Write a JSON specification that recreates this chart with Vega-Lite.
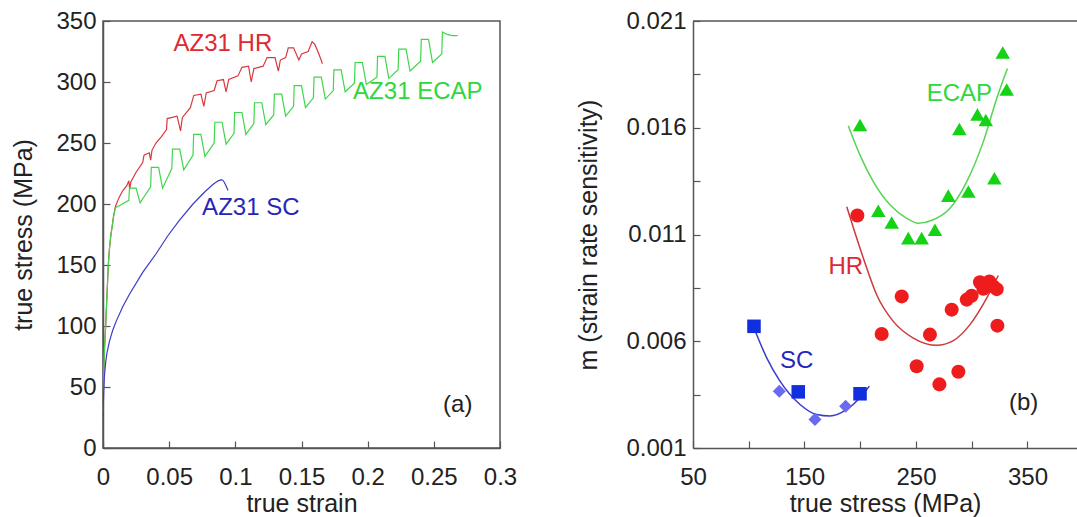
{
  "$schema": "https://vega.github.io/schema/vega-lite/v6.json",
  "background": "white",
  "padding": {"left": 11, "top": 8, "right": 0, "bottom": 0},
  "bounds": "flush",
  "spacing": 193,
  "config": {
    "font": "Liberation Sans",
    "view": {"stroke": "#555", "strokeWidth": 1.5},
    "axis": {
      "labelFont": "Liberation Sans", "titleFont": "Liberation Sans",
      "labelFontSize": 24, "titleFontSize": 25, "titleFontWeight": "normal",
      "labelColor": "#222", "titleColor": "#222",
      "domainColor": "#555", "domainWidth": 1.5, "tickColor": "#555", "tickWidth": 1.2,
      "grid": false, "tickSize": -7, "labelPadding": 14, "labelOverlap": false, "labelFlush": false
    }
  },
  "datasets": {
    "curves": [
      {"series": "HR", "i": 1, "strain": 0, "stress": 30},
      {"series": "HR", "i": 2, "strain": 0.0005, "stress": 60},
      {"series": "HR", "i": 3, "strain": 0.001, "stress": 78},
      {"series": "HR", "i": 4, "strain": 0.002, "stress": 100},
      {"series": "HR", "i": 5, "strain": 0.003, "stress": 125},
      {"series": "HR", "i": 6, "strain": 0.004, "stress": 150},
      {"series": "HR", "i": 7, "strain": 0.005, "stress": 165},
      {"series": "HR", "i": 8, "strain": 0.006, "stress": 175},
      {"series": "HR", "i": 9, "strain": 0.007, "stress": 182},
      {"series": "HR", "i": 10, "strain": 0.008, "stress": 190},
      {"series": "HR", "i": 11, "strain": 0.0094, "stress": 198},
      {"series": "HR", "i": 12, "strain": 0.012, "stress": 205},
      {"series": "HR", "i": 13, "strain": 0.015, "stress": 211},
      {"series": "HR", "i": 14, "strain": 0.018, "stress": 215},
      {"series": "HR", "i": 15, "strain": 0.0195, "stress": 219},
      {"series": "HR", "i": 16, "strain": 0.0202, "stress": 212},
      {"series": "HR", "i": 17, "strain": 0.021, "stress": 218},
      {"series": "HR", "i": 18, "strain": 0.025, "stress": 226},
      {"series": "HR", "i": 19, "strain": 0.030, "stress": 234},
      {"series": "HR", "i": 20, "strain": 0.031, "stress": 240},
      {"series": "HR", "i": 21, "strain": 0.035, "stress": 242},
      {"series": "HR", "i": 22, "strain": 0.036, "stress": 236},
      {"series": "HR", "i": 23, "strain": 0.037, "stress": 244},
      {"series": "HR", "i": 24, "strain": 0.040, "stress": 250},
      {"series": "HR", "i": 25, "strain": 0.044, "stress": 255},
      {"series": "HR", "i": 26, "strain": 0.048, "stress": 261},
      {"series": "HR", "i": 27, "strain": 0.0485, "stress": 270},
      {"series": "HR", "i": 28, "strain": 0.056, "stress": 272},
      {"series": "HR", "i": 29, "strain": 0.0586, "stress": 260},
      {"series": "HR", "i": 30, "strain": 0.060, "stress": 271},
      {"series": "HR", "i": 31, "strain": 0.066, "stress": 279},
      {"series": "HR", "i": 32, "strain": 0.0686, "stress": 289},
      {"series": "HR", "i": 33, "strain": 0.074, "stress": 290},
      {"series": "HR", "i": 34, "strain": 0.0762, "stress": 280},
      {"series": "HR", "i": 35, "strain": 0.078, "stress": 291},
      {"series": "HR", "i": 36, "strain": 0.084, "stress": 293},
      {"series": "HR", "i": 37, "strain": 0.0862, "stress": 301},
      {"series": "HR", "i": 38, "strain": 0.091, "stress": 302},
      {"series": "HR", "i": 39, "strain": 0.093, "stress": 292},
      {"series": "HR", "i": 40, "strain": 0.095, "stress": 302},
      {"series": "HR", "i": 41, "strain": 0.102, "stress": 305},
      {"series": "HR", "i": 42, "strain": 0.105, "stress": 312},
      {"series": "HR", "i": 43, "strain": 0.110, "stress": 313},
      {"series": "HR", "i": 44, "strain": 0.112, "stress": 300},
      {"series": "HR", "i": 45, "strain": 0.114, "stress": 311},
      {"series": "HR", "i": 46, "strain": 0.121, "stress": 313},
      {"series": "HR", "i": 47, "strain": 0.124, "stress": 320},
      {"series": "HR", "i": 48, "strain": 0.130, "stress": 320},
      {"series": "HR", "i": 49, "strain": 0.1325, "stress": 309},
      {"series": "HR", "i": 50, "strain": 0.134, "stress": 318},
      {"series": "HR", "i": 51, "strain": 0.138, "stress": 320},
      {"series": "HR", "i": 52, "strain": 0.140, "stress": 328},
      {"series": "HR", "i": 53, "strain": 0.144, "stress": 328},
      {"series": "HR", "i": 54, "strain": 0.148, "stress": 318},
      {"series": "HR", "i": 55, "strain": 0.150, "stress": 323},
      {"series": "HR", "i": 56, "strain": 0.155, "stress": 325},
      {"series": "HR", "i": 57, "strain": 0.158, "stress": 333},
      {"series": "HR", "i": 58, "strain": 0.160, "stress": 331},
      {"series": "HR", "i": 59, "strain": 0.162, "stress": 326},
      {"series": "HR", "i": 60, "strain": 0.1645, "stress": 319},
      {"series": "HR", "i": 61, "strain": 0.1658, "stress": 315},

      {"series": "ECAP", "i": 1, "strain": 0, "stress": 30},
      {"series": "ECAP", "i": 2, "strain": 0.0005, "stress": 60},
      {"series": "ECAP", "i": 3, "strain": 0.001, "stress": 78},
      {"series": "ECAP", "i": 4, "strain": 0.002, "stress": 100},
      {"series": "ECAP", "i": 5, "strain": 0.003, "stress": 125},
      {"series": "ECAP", "i": 6, "strain": 0.004, "stress": 150},
      {"series": "ECAP", "i": 7, "strain": 0.005, "stress": 165},
      {"series": "ECAP", "i": 8, "strain": 0.006, "stress": 175},
      {"series": "ECAP", "i": 9, "strain": 0.007, "stress": 182},
      {"series": "ECAP", "i": 10, "strain": 0.008, "stress": 190},
      {"series": "ECAP", "i": 11, "strain": 0.0094, "stress": 197},
      {"series": "ECAP", "i": 12, "strain": 0.013, "stress": 199},
      {"series": "ECAP", "i": 13, "strain": 0.0195, "stress": 203},
      {"series": "ECAP", "i": 14, "strain": 0.020, "stress": 213},
      {"series": "ECAP", "i": 15, "strain": 0.025, "stress": 213},
      {"series": "ECAP", "i": 16, "strain": 0.028, "stress": 201},
      {"series": "ECAP", "i": 17, "strain": 0.036, "stress": 214},
      {"series": "ECAP", "i": 18, "strain": 0.0365, "stress": 230},
      {"series": "ECAP", "i": 19, "strain": 0.042, "stress": 230},
      {"series": "ECAP", "i": 20, "strain": 0.045, "stress": 213},
      {"series": "ECAP", "i": 21, "strain": 0.052, "stress": 229},
      {"series": "ECAP", "i": 22, "strain": 0.0525, "stress": 245},
      {"series": "ECAP", "i": 23, "strain": 0.058, "stress": 245},
      {"series": "ECAP", "i": 24, "strain": 0.061, "stress": 228},
      {"series": "ECAP", "i": 25, "strain": 0.068, "stress": 240},
      {"series": "ECAP", "i": 26, "strain": 0.0685, "stress": 257},
      {"series": "ECAP", "i": 27, "strain": 0.074, "stress": 257},
      {"series": "ECAP", "i": 28, "strain": 0.077, "stress": 239},
      {"series": "ECAP", "i": 29, "strain": 0.084, "stress": 250},
      {"series": "ECAP", "i": 30, "strain": 0.0845, "stress": 267},
      {"series": "ECAP", "i": 31, "strain": 0.090, "stress": 267},
      {"series": "ECAP", "i": 32, "strain": 0.093, "stress": 249},
      {"series": "ECAP", "i": 33, "strain": 0.099, "stress": 258},
      {"series": "ECAP", "i": 34, "strain": 0.0995, "stress": 275},
      {"series": "ECAP", "i": 35, "strain": 0.105, "stress": 275},
      {"series": "ECAP", "i": 36, "strain": 0.108, "stress": 257},
      {"series": "ECAP", "i": 37, "strain": 0.114, "stress": 266},
      {"series": "ECAP", "i": 38, "strain": 0.1145, "stress": 283},
      {"series": "ECAP", "i": 39, "strain": 0.120, "stress": 283},
      {"series": "ECAP", "i": 40, "strain": 0.123, "stress": 265},
      {"series": "ECAP", "i": 41, "strain": 0.129, "stress": 273},
      {"series": "ECAP", "i": 42, "strain": 0.1295, "stress": 290},
      {"series": "ECAP", "i": 43, "strain": 0.135, "stress": 290},
      {"series": "ECAP", "i": 44, "strain": 0.138, "stress": 272},
      {"series": "ECAP", "i": 45, "strain": 0.144, "stress": 280},
      {"series": "ECAP", "i": 46, "strain": 0.1445, "stress": 297},
      {"series": "ECAP", "i": 47, "strain": 0.150, "stress": 297},
      {"series": "ECAP", "i": 48, "strain": 0.153, "stress": 279},
      {"series": "ECAP", "i": 49, "strain": 0.159, "stress": 287},
      {"series": "ECAP", "i": 50, "strain": 0.1595, "stress": 304},
      {"series": "ECAP", "i": 51, "strain": 0.165, "stress": 304},
      {"series": "ECAP", "i": 52, "strain": 0.168, "stress": 286},
      {"series": "ECAP", "i": 53, "strain": 0.174, "stress": 293},
      {"series": "ECAP", "i": 54, "strain": 0.1745, "stress": 310},
      {"series": "ECAP", "i": 55, "strain": 0.180, "stress": 310},
      {"series": "ECAP", "i": 56, "strain": 0.183, "stress": 292},
      {"series": "ECAP", "i": 57, "strain": 0.190, "stress": 299},
      {"series": "ECAP", "i": 58, "strain": 0.1905, "stress": 316},
      {"series": "ECAP", "i": 59, "strain": 0.196, "stress": 316},
      {"series": "ECAP", "i": 60, "strain": 0.199, "stress": 298},
      {"series": "ECAP", "i": 61, "strain": 0.207, "stress": 304},
      {"series": "ECAP", "i": 62, "strain": 0.2075, "stress": 321},
      {"series": "ECAP", "i": 63, "strain": 0.213, "stress": 321},
      {"series": "ECAP", "i": 64, "strain": 0.216, "stress": 303},
      {"series": "ECAP", "i": 65, "strain": 0.223, "stress": 310},
      {"series": "ECAP", "i": 66, "strain": 0.2235, "stress": 327},
      {"series": "ECAP", "i": 67, "strain": 0.229, "stress": 327},
      {"series": "ECAP", "i": 68, "strain": 0.232, "stress": 309},
      {"series": "ECAP", "i": 69, "strain": 0.240, "stress": 317},
      {"series": "ECAP", "i": 70, "strain": 0.2405, "stress": 335},
      {"series": "ECAP", "i": 71, "strain": 0.246, "stress": 335},
      {"series": "ECAP", "i": 72, "strain": 0.249, "stress": 316},
      {"series": "ECAP", "i": 73, "strain": 0.256, "stress": 323},
      {"series": "ECAP", "i": 74, "strain": 0.2565, "stress": 341},
      {"series": "ECAP", "i": 75, "strain": 0.260, "stress": 339},
      {"series": "ECAP", "i": 76, "strain": 0.264, "stress": 338},
      {"series": "ECAP", "i": 77, "strain": 0.268, "stress": 338},

      {"series": "SC", "i": 1, "strain": 0, "stress": 25},
      {"series": "SC", "i": 2, "strain": 0.0005, "stress": 45},
      {"series": "SC", "i": 3, "strain": 0.001, "stress": 58},
      {"series": "SC", "i": 4, "strain": 0.002, "stress": 70},
      {"series": "SC", "i": 5, "strain": 0.003, "stress": 78},
      {"series": "SC", "i": 6, "strain": 0.005, "stress": 88},
      {"series": "SC", "i": 7, "strain": 0.0075, "stress": 97},
      {"series": "SC", "i": 8, "strain": 0.010, "stress": 104},
      {"series": "SC", "i": 9, "strain": 0.015, "stress": 116},
      {"series": "SC", "i": 10, "strain": 0.020, "stress": 126},
      {"series": "SC", "i": 11, "strain": 0.030, "stress": 144},
      {"series": "SC", "i": 12, "strain": 0.040, "stress": 159},
      {"series": "SC", "i": 13, "strain": 0.049, "stress": 174},
      {"series": "SC", "i": 14, "strain": 0.058, "stress": 187},
      {"series": "SC", "i": 15, "strain": 0.068, "stress": 200},
      {"series": "SC", "i": 16, "strain": 0.077, "stress": 210},
      {"series": "SC", "i": 17, "strain": 0.083, "stress": 216},
      {"series": "SC", "i": 18, "strain": 0.087, "stress": 219},
      {"series": "SC", "i": 19, "strain": 0.0895, "stress": 220},
      {"series": "SC", "i": 20, "strain": 0.091, "stress": 219},
      {"series": "SC", "i": 21, "strain": 0.0925, "stress": 216},
      {"series": "SC", "i": 22, "strain": 0.0945, "stress": 211}
    ],
    "leftLabels": [
      {"label": "AZ31 HR", "strain": 0.0533, "stress": 331},
      {"label": "AZ31 ECAP", "strain": 0.189, "stress": 291.5},
      {"label": "AZ31 SC", "strain": 0.0749, "stress": 196.5},
      {"label": "(a)", "strain": 0.257, "stress": 35}
    ],
    "fits": [
      {"series": "ECAP", "i": 1, "stress": 189.3, "m": 0.01609},
      {"series": "ECAP", "i": 2, "stress": 199.8, "m": 0.01472},
      {"series": "ECAP", "i": 3, "stress": 211.7, "m": 0.01348},
      {"series": "ECAP", "i": 4, "stress": 226.7, "m": 0.01239},
      {"series": "ECAP", "i": 5, "stress": 241.6, "m": 0.01176},
      {"series": "ECAP", "i": 6, "stress": 252.1, "m": 0.01153},
      {"series": "ECAP", "i": 7, "stress": 265.5, "m": 0.01169},
      {"series": "ECAP", "i": 8, "stress": 280.5, "m": 0.01223},
      {"series": "ECAP", "i": 9, "stress": 295.5, "m": 0.01348},
      {"series": "ECAP", "i": 10, "stress": 310.4, "m": 0.01535},
      {"series": "ECAP", "i": 11, "stress": 322.4, "m": 0.01737},
      {"series": "ECAP", "i": 12, "stress": 332.0, "m": 0.01877},
      {"series": "HR", "i": 1, "stress": 187.9, "m": 0.0123},
      {"series": "HR", "i": 2, "stress": 202.8, "m": 0.00989},
      {"series": "HR", "i": 3, "stress": 214.7, "m": 0.00818},
      {"series": "HR", "i": 4, "stress": 229.6, "m": 0.00693},
      {"series": "HR", "i": 5, "stress": 247.6, "m": 0.00615},
      {"series": "HR", "i": 6, "stress": 268.6, "m": 0.00581},
      {"series": "HR", "i": 7, "stress": 283.5, "m": 0.00603},
      {"series": "HR", "i": 8, "stress": 298.4, "m": 0.00678},
      {"series": "HR", "i": 9, "stress": 313.4, "m": 0.00802},
      {"series": "HR", "i": 10, "stress": 323.8, "m": 0.00908},
      {"series": "SC", "i": 1, "stress": 104.7, "m": 0.00662},
      {"series": "SC", "i": 2, "stress": 116.1, "m": 0.00522},
      {"series": "SC", "i": 3, "stress": 128.0, "m": 0.00413},
      {"series": "SC", "i": 4, "stress": 146.0, "m": 0.00304},
      {"series": "SC", "i": 5, "stress": 160.9, "m": 0.00257},
      {"series": "SC", "i": 6, "stress": 172.9, "m": 0.0025},
      {"series": "SC", "i": 7, "stress": 187.9, "m": 0.00281},
      {"series": "SC", "i": 8, "stress": 199.8, "m": 0.00335},
      {"series": "SC", "i": 9, "stress": 208.2, "m": 0.0039}
    ],
    "points": [
      {"group": "ECAP", "stress": 199.8, "m": 0.01613},
      {"group": "ECAP", "stress": 216.2, "m": 0.01211},
      {"group": "ECAP", "stress": 228.2, "m": 0.01156},
      {"group": "ECAP", "stress": 243.1, "m": 0.01083},
      {"group": "ECAP", "stress": 255.1, "m": 0.01083},
      {"group": "ECAP", "stress": 267.0, "m": 0.01122},
      {"group": "ECAP", "stress": 279.0, "m": 0.01282},
      {"group": "ECAP", "stress": 288.9, "m": 0.01594},
      {"group": "ECAP", "stress": 297.0, "m": 0.01301},
      {"group": "ECAP", "stress": 305.1, "m": 0.01662},
      {"group": "ECAP", "stress": 312.6, "m": 0.01636},
      {"group": "ECAP", "stress": 320.3, "m": 0.01363},
      {"group": "ECAP", "stress": 327.8, "m": 0.01952},
      {"group": "ECAP", "stress": 331.3, "m": 0.01779},
      {"group": "HR", "stress": 197.4, "m": 0.01189},
      {"group": "HR", "stress": 219.2, "m": 0.00634},
      {"group": "HR", "stress": 237.2, "m": 0.0081},
      {"group": "HR", "stress": 250.6, "m": 0.00483},
      {"group": "HR", "stress": 262.5, "m": 0.00631},
      {"group": "HR", "stress": 271.0, "m": 0.00398},
      {"group": "HR", "stress": 282.0, "m": 0.00748},
      {"group": "HR", "stress": 288.0, "m": 0.00457},
      {"group": "HR", "stress": 295.5, "m": 0.00795},
      {"group": "HR", "stress": 299.9, "m": 0.00813},
      {"group": "HR", "stress": 307.4, "m": 0.00876},
      {"group": "HR", "stress": 310.4, "m": 0.00846},
      {"group": "HR", "stress": 315.8, "m": 0.0088},
      {"group": "HR", "stress": 319.3, "m": 0.00857},
      {"group": "HR", "stress": 322.4, "m": 0.00844},
      {"group": "HR", "stress": 323.0, "m": 0.00673},
      {"group": "SC", "stress": 104.7, "m": 0.0067},
      {"group": "SC", "stress": 144.4, "m": 0.00363},
      {"group": "SC", "stress": 199.8, "m": 0.00354},
      {"group": "SC2", "stress": 127.4, "m": 0.00366},
      {"group": "SC2", "stress": 159.4, "m": 0.00234},
      {"group": "SC2", "stress": 186.9, "m": 0.00296}
    ],
    "rightLabels": [
      {"label": "ECAP", "stress": 259.6, "m": 0.0176},
      {"label": "HR", "stress": 171.5, "m": 0.0095},
      {"label": "SC", "stress": 128, "m": 0.00507},
      {"label": "(b)", "stress": 333.4, "m": 0.00312}
    ]
  },
  "hconcat": [
    {
      "width": 397,
      "height": 427,
      "layer": [
        {
          "data": {"name": "curves"},
          "mark": {"type": "line", "strokeWidth": 1.2, "clip": true},
          "encoding": {
            "x": {"field": "strain", "type": "quantitative", "title": "true strain",
              "scale": {"domain": [0, 0.3], "nice": false, "zero": false},
              "axis": {"values": [0, 0.025, 0.05, 0.075, 0.1, 0.125, 0.15, 0.175, 0.2, 0.225, 0.25, 0.275, 0.3],
                "labelExpr": "round(datum.value*1000) % 50 == 0 ? format(datum.value, '~g') : ''",
                "labelPadding": 24, "titlePadding": 2}},
            "y": {"field": "stress", "type": "quantitative", "title": "true stress (MPa)",
              "scale": {"domain": [0, 350], "nice": false},
              "axis": {"values": [0, 25, 50, 75, 100, 125, 150, 175, 200, 225, 250, 275, 300, 325, 350],
                "labelExpr": "datum.value % 50 == 0 ? datum.label : ''",
                "titlePadding": 19}},
            "color": {"field": "series", "type": "nominal", "legend": null,
              "scale": {"domain": ["HR", "ECAP", "SC"], "range": ["#d63a3e", "#3fd64b", "#3b3bc6"]}},
            "order": {"field": "i", "type": "quantitative"}
          }
        },
        {
          "data": {"name": "leftLabels"},
          "mark": {"type": "text", "align": "left", "baseline": "middle", "fontSize": 24, "font": "Liberation Sans"},
          "encoding": {
            "x": {"field": "strain", "type": "quantitative"},
            "y": {"field": "stress", "type": "quantitative"},
            "text": {"field": "label"},
            "color": {"field": "label", "type": "nominal", "legend": null,
              "scale": {"domain": ["AZ31 HR", "AZ31 ECAP", "AZ31 SC", "(a)"], "range": ["#dc2a30", "#2fd63c", "#2626b8", "#222222"]}}
          }
        }
      ],
      "resolve": {"scale": {"color": "independent"}}
    },
    {
      "width": 384,
      "height": 427,
      "view": {"stroke": null},
      "layer": [
        {
          "data": {"values": [{}]},
          "mark": {"type": "rule", "color": "#555", "strokeWidth": 1.5},
          "encoding": {"y": {"datum": 0.021}}
        },
        {
          "data": {"name": "fits"},
          "mark": {"type": "line", "strokeWidth": 1.5, "interpolate": "monotone"},
          "encoding": {
            "x": {"field": "stress", "type": "quantitative", "title": "true stress (MPa)",
              "scale": {"domain": [50, 394.4], "nice": false, "zero": false},
              "axis": {"values": [50, 100, 150, 200, 250, 300, 350],
                "labelExpr": "(datum.value - 50) % 100 == 0 ? datum.label : ''",
                "labelPadding": 24, "titlePadding": 2}},
            "y": {"field": "m", "type": "quantitative", "title": "m (strain rate sensitivity)",
              "scale": {"domain": [0.001, 0.021], "nice": false, "zero": false},
              "axis": {"values": [0.001, 0.0035, 0.006, 0.0085, 0.011, 0.0135, 0.016, 0.0185, 0.021],
                "labelExpr": "round(datum.value*10000) % 50 == 10 ? format(datum.value, '.3f') : ''",
                "titlePadding": 24}},
            "color": {"field": "series", "type": "nominal", "legend": null,
              "scale": {"domain": ["ECAP", "HR", "SC"], "range": ["#55d455", "#cc3b3b", "#3b3bcc"]}},
            "order": {"field": "i", "type": "quantitative"}
          }
        },
        {
          "data": {"name": "points"},
          "mark": {"type": "point", "filled": true, "opacity": 1},
          "encoding": {
            "x": {"field": "stress", "type": "quantitative"},
            "y": {"field": "m", "type": "quantitative"},
            "color": {"field": "group", "type": "nominal", "legend": null,
              "scale": {"domain": ["ECAP", "HR", "SC", "SC2"], "range": ["#14d214", "#ee1c1c", "#1030e0", "#6b6bef"]}},
            "shape": {"field": "group", "type": "nominal", "legend": null,
              "scale": {"domain": ["ECAP", "HR", "SC", "SC2"], "range": ["triangle-up", "circle", "square", "diamond"]}},
            "size": {"field": "group", "type": "nominal", "legend": null,
              "scale": {"domain": ["ECAP", "HR", "SC", "SC2"], "range": [210, 170, 160, 320]}}
          }
        },
        {
          "data": {"name": "rightLabels"},
          "mark": {"type": "text", "align": "left", "baseline": "middle", "fontSize": 24, "font": "Liberation Sans"},
          "encoding": {
            "x": {"field": "stress", "type": "quantitative"},
            "y": {"field": "m", "type": "quantitative"},
            "text": {"field": "label"},
            "color": {"field": "label", "type": "nominal", "legend": null,
              "scale": {"domain": ["ECAP", "HR", "SC", "(b)"], "range": ["#2fd63c", "#dc2a30", "#2626b8", "#222222"]}}
          }
        }
      ],
      "resolve": {"scale": {"color": "independent", "shape": "independent", "size": "independent"}}
    }
  ]
}
